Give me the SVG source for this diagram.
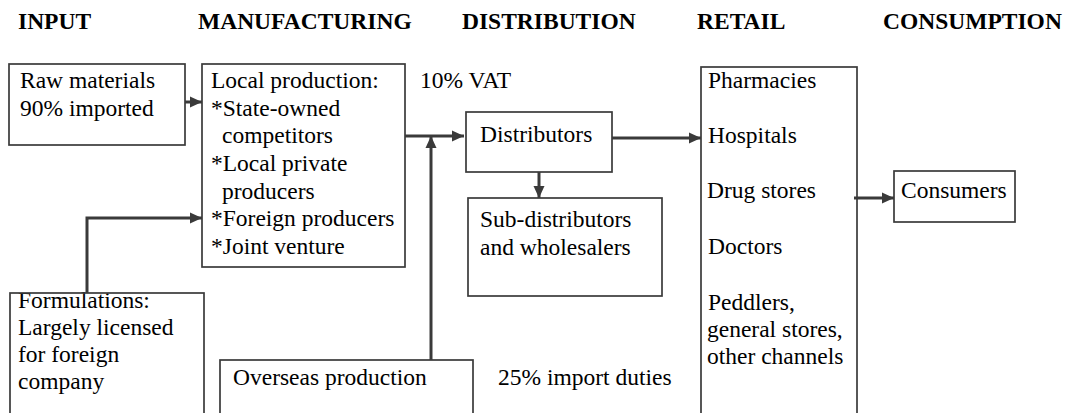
<svg xmlns="http://www.w3.org/2000/svg" width="1076" height="413" viewBox="0 0 1076 413">
  <style>
    .hdr { font-weight: bold; font-size: 23.5px; fill: #000; }
    .t { font-size: 23.5px; fill: #000; }
    .box { fill: #fff; stroke: #3a3a3a; stroke-width: 1.7; }
    .frame { fill: none; stroke: #3a3a3a; stroke-width: 1.7; }
    .conn { fill: none; stroke: #3a3a3a; stroke-width: 3; }
  </style>
  <defs>
    <marker id="arr" markerUnits="userSpaceOnUse" markerWidth="13" markerHeight="12" refX="12" refY="6" orient="auto">
      <path d="M0,0.5 L12,6 L0,11.5 z" fill="#3a3a3a"/>
    </marker>
  </defs>
  <rect width="1076" height="413" fill="#fff"/>

  <g font-family="'Liberation Serif', serif">
  <g id="headers">
    <text class="hdr" x="18" y="29">INPUT</text>
    <text class="hdr" x="198" y="29">MANUFACTURING</text>
    <text class="hdr" x="462" y="29">DISTRIBUTION</text>
    <text class="hdr" x="697" y="29">RETAIL</text>
    <text class="hdr" x="883" y="29">CONSUMPTION</text>
  </g>

  <g id="raw-materials">
    <rect class="box" x="9" y="64" width="176" height="81"/>
    <text class="t" x="20" y="88">Raw materials</text>
    <text class="t" x="20" y="116">90% imported</text>
  </g>

  <g id="local-production">
    <rect class="box" x="202" y="64" width="203" height="203"/>
    <text class="t" x="211" y="88">Local production:</text>
    <text class="t" x="211" y="116">*State-owned</text>
    <text class="t" x="222" y="143">competitors</text>
    <text class="t" x="211" y="171">*Local private</text>
    <text class="t" x="222" y="199">producers</text>
    <text class="t" x="211" y="226">*Foreign producers</text>
    <text class="t" x="211" y="254">*Joint venture</text>
  </g>

  <g id="vat-label">
    <text class="t" x="420" y="88">10% VAT</text>
  </g>

  <g id="distributors">
    <rect class="box" x="466" y="112" width="146" height="60"/>
    <text class="t" x="480" y="142">Distributors</text>
  </g>

  <g id="sub-distributors">
    <rect class="box" x="468" y="198" width="194" height="98"/>
    <text class="t" x="480" y="227">Sub-distributors</text>
    <text class="t" x="480" y="255">and wholesalers</text>
  </g>

  <g id="retail">
    <rect class="box" x="701" y="67" width="156" height="360"/>
    <text class="t" x="708" y="88">Pharmacies</text>
    <text class="t" x="708" y="143">Hospitals</text>
    <text class="t" x="707" y="198">Drug stores</text>
    <text class="t" x="708" y="254">Doctors</text>
    <text class="t" x="708" y="310">Peddlers,</text>
    <text class="t" x="707" y="337">general stores,</text>
    <text class="t" x="707" y="364">other channels</text>
  </g>

  <g id="consumers">
    <rect class="box" x="894" y="171" width="121" height="51"/>
    <text class="t" x="901" y="198">Consumers</text>
  </g>

  <g id="formulations">
    <text class="t" x="18" y="308">Formulations:</text>
    <text class="t" x="18" y="335">Largely licensed</text>
    <text class="t" x="18" y="362">for foreign</text>
    <text class="t" x="18" y="389">company</text>
    <rect class="frame" x="10" y="293" width="194" height="140"/>
  </g>

  <g id="overseas-production">
    <rect class="box" x="220" y="360" width="253" height="80"/>
    <text class="t" x="233" y="385">Overseas production</text>
  </g>

  <g id="import-label">
    <text class="t" x="498" y="385">25% import duties</text>
  </g>
  </g>

  <g id="connectors">
    <path class="conn" d="M185,102 H202" marker-end="url(#arr)"/>
    <path class="conn" d="M87,293 V218 H202" marker-end="url(#arr)"/>
    <path class="conn" d="M405,136 H464" marker-end="url(#arr)"/>
    <path class="conn" d="M431,360 V136" marker-end="url(#arr)"/>
    <path class="conn" d="M539,172 V198" marker-end="url(#arr)"/>
    <path class="conn" d="M612,138 H701" marker-end="url(#arr)"/>
    <path class="conn" d="M854,198 H894" marker-end="url(#arr)"/>
  </g>
</svg>
